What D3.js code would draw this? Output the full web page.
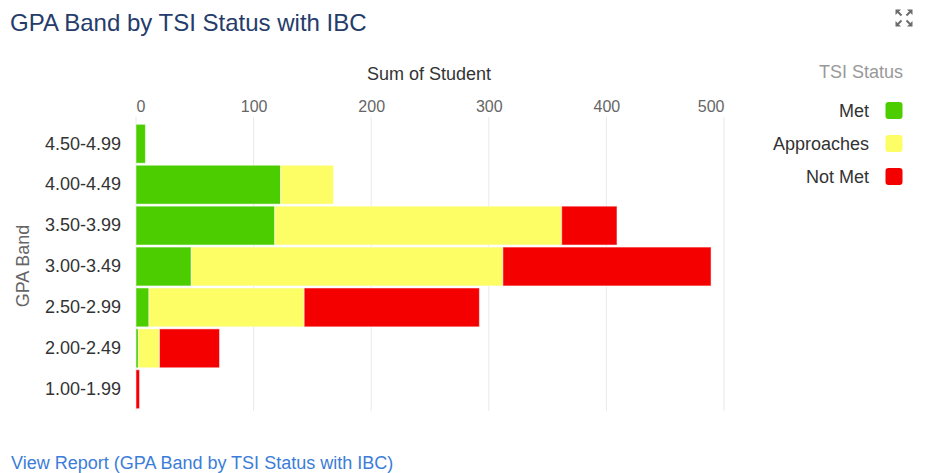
<!DOCTYPE html>
<html><head><meta charset="utf-8">
<script src="https://cdn.jsdelivr.net/npm/d3@7"></script>
<style>
html,body{margin:0;padding:0;background:#fff;}
svg{display:block;font-family:"Liberation Sans",Arial,Helvetica,sans-serif;}
</style></head>
<body><svg id="c" width="935" height="473"></svg>
<script>
const categories = ["4.50-4.99","4.00-4.49","3.50-3.99","3.00-3.49","2.50-2.99","2.00-2.49","1.00-1.99"];
const seriesNames = ["Met","Approaches","Not Met"];
const metValues = [8,123,118,47,11,2,0];
const approachesValues = [0,45,244,265,132,18,0];
const notMetValues = [0,0,47,177,149,51,3];
const tickValues = [0,100,200,300,400,500];
const colors = ["#4ccd00","#fdfd66","#f40000"];

const FF = "Liberation Sans, Arial, sans-serif";
const svg = d3.select("#c");
svg.append("rect").attr("width",935).attr("height",473).attr("fill","#fff");

// title
svg.append("text").attr("x",10).attr("y",31).attr("font-size",24).attr("fill","#253c6b")
  .text("GPA Band by TSI Status with IBC");

// expand icon
const ic = svg.append("g").attr("transform","translate(904,18)").attr("fill","#6b6b6b").attr("stroke","#6b6b6b");
[[-1,-1],[1,-1],[-1,1],[1,1]].forEach(([sx,sy])=>{
  ic.append("path").attr("stroke","none")
    .attr("d",`M${sx*8.5},${sy*8.5} L${sx*3},${sy*8.5} L${sx*8.5},${sy*3} Z`);
  ic.append("line").attr("stroke-width",2)
    .attr("x1",sx*6).attr("y1",sy*6).attr("x2",sx*2.5).attr("y2",sy*2.5);
});

const x = d3.scaleLinear().domain([0,500]).range([136,724]);
const y = d3.scaleBand().domain(categories).range([123.5,409.5]).paddingInner(0.05).paddingOuter(0.02);

// gridlines
svg.append("g").selectAll("line").data(tickValues).join("line")
  .attr("x1",d=>x(d)).attr("x2",d=>x(d)).attr("y1",117).attr("y2",411)
  .attr("stroke","#e6e9f0").attr("stroke-width",1);

// top axis labels
const xAxis = d3.axisTop(x).tickValues(tickValues).tickSize(0).tickPadding(0);
const gx = svg.append("g").attr("transform","translate(0,112)").call(xAxis);
gx.select(".domain").remove();
const last = tickValues[tickValues.length-1];
gx.selectAll("text").attr("font-size",16).attr("fill","#666").attr("font-family",FF).attr("dy",0)
  .attr("text-anchor",d=>d===0?"start":(d===last?"end":"middle"));

svg.append("text").attr("x",429).attr("y",80).attr("text-anchor","middle")
  .attr("font-size",18).attr("fill","#333").text("Sum of Student");

// y axis labels
const yAxis = d3.axisLeft(y).tickSize(0).tickPadding(0);
const gy = svg.append("g").attr("transform","translate(121,0)").call(yAxis);
gy.select(".domain").remove();
gy.selectAll("text").attr("font-size",18).attr("fill","#333").attr("font-family",FF);

svg.append("text").attr("transform","translate(29,266) rotate(-90)").attr("text-anchor","middle")
  .attr("font-size",18).attr("fill","#666").text("GPA Band");

// stacked bars
const rows = categories.map((c,i)=>({cat:c, "Met":metValues[i], "Approaches":approachesValues[i], "Not Met":notMetValues[i]}));
const stacked = d3.stack().keys(seriesNames)(rows);
svg.append("g").selectAll("g").data(stacked).join("g")
  .attr("fill",(d,i)=>colors[i])
  .selectAll("rect").data(d=>d.filter(p=>p[1]-p[0]>0)).join("rect")
  .attr("x",d=>x(d[0])).attr("width",d=>x(d[1])-x(d[0]))
  .attr("y",d=>y(d.data.cat)).attr("height",y.bandwidth())
  .attr("stroke","#ffffff").attr("stroke-opacity",0.5).attr("stroke-width",1);

// legend
svg.append("text").attr("x",903).attr("y",78).attr("text-anchor","end")
  .attr("font-size",18).attr("fill","#999").text("TSI Status");
const lg = svg.append("g").selectAll("g").data(seriesNames).join("g")
  .attr("transform",(d,i)=>`translate(0,${i*33})`);
lg.append("text").attr("x",869).attr("y",117).attr("text-anchor","end")
  .attr("font-size",18).attr("fill","#333").text(d=>d);
lg.append("rect").attr("x",885.5).attr("y",102).attr("width",17).attr("height",17).attr("rx",3)
  .attr("fill",(d,i)=>colors[i]);

// link
svg.append("text").attr("x",11).attr("y",469).attr("font-size",18).attr("fill","#3b7dd8")
  .text("View Report (GPA Band by TSI Status with IBC)");
</script></body></html>
